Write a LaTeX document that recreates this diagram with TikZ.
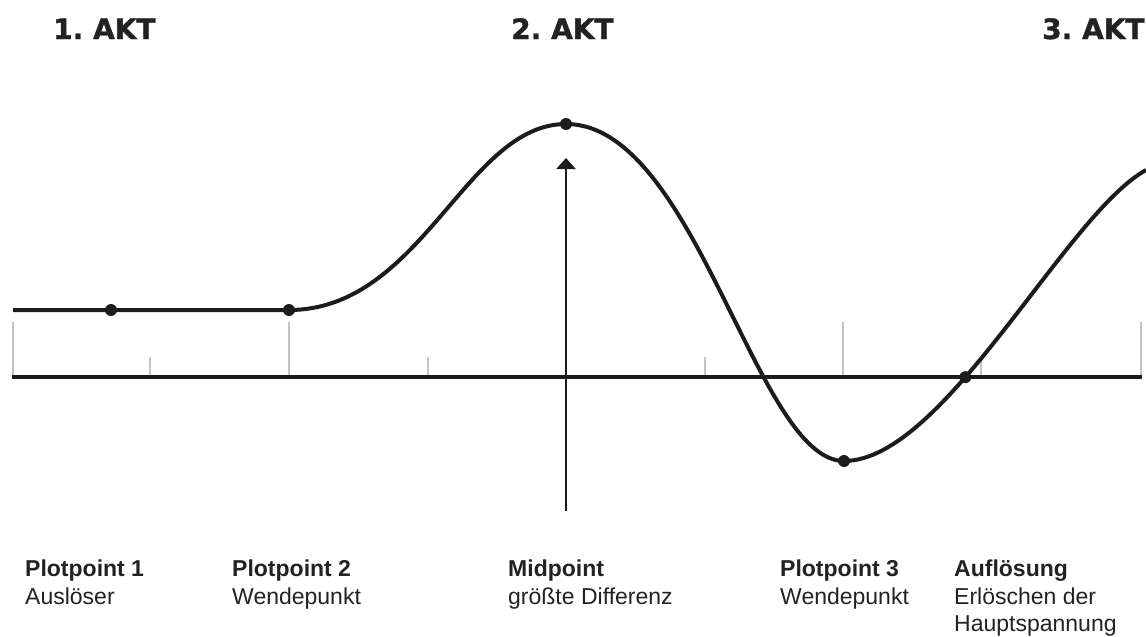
\documentclass[tikz,border=0pt]{standalone}
\usepackage{fontspec}
\setmainfont{Liberation Sans}
\newfontfamily\aktfont[BoldFeatures={FakeBold=1.2}]{DejaVu Sans}
\usetikzlibrary{arrows.meta}
\definecolor{linie}{HTML}{1C1C1C}
\definecolor{strich}{HTML}{C4C4C4}
\definecolor{schrift}{HTML}{222222}
\tikzset{
  akt/.style={anchor=base west, inner sep=0pt, font=\aktfont\bfseries\fontsize{28}{30}\selectfont, text=schrift},
  lbl/.style={anchor=base west, inner sep=0pt, align=left, font=\fontsize{23}{27.5}\selectfont, text=schrift},
  punkt/.style={circle, fill=linie, inner sep=0pt, minimum size=12pt},
  kurve/.style={line width=4pt, draw=linie},
  strichlein/.style={line width=2pt, draw=strich},
}
\begin{document}
\begin{tikzpicture}[x=1pt, y=-1pt]
    \useasboundingbox (0,0) rectangle (1146,637);

    % Akte
    \node[akt] (akt1) at (53,39) {1.\hspace{0.35em}AKT};
    \node[akt] (akt2) at (511,39) {2.\hspace{0.35em}AKT};
    \node[akt] (akt3) at (1042,39) {3.\hspace{0.35em}AKT};

    % Striche auf der Zeitachse
    \foreach \x in {13,289,843,1141}
        \draw[strichlein] (\x,322) -- (\x,377);
    \foreach \x in {150,428,705,981}
        \draw[strichlein] (\x,357) -- (\x,377);

    % Zeitachse
    \coordinate (links) at (12,377);
    \coordinate (rechts) at (1142,377);
    \draw[kurve] (links) -- (rechts);

    % Pfeil zum Midpoint
    \coordinate (fuss) at (566,511);
    \coordinate (spitze) at (566,158);
    \draw[-{Triangle[width=19pt,length=11pt]}, line width=2.5pt, draw=linie] (fuss) -- (spitze);

    % Spannungskurve
    \coordinate (start) at (13,310);
    \coordinate (pp1) at (111,310);
    \coordinate (pp2) at (289,310);
    \coordinate (mid) at (566,124);
    \coordinate (pp3) at (844,461);
    \coordinate (ende) at (1146,170);
    \draw[kurve] (start) -- (pp2)
        .. controls (422,310) and (466,124) .. (mid)
        .. controls (696,124) and (756,461) .. (pp3)
        .. controls (944,461) and (1065,215) .. coordinate[pos=0.385] (aufl) (ende);

    % Punkte
    \foreach \p in {pp1,pp2,mid,pp3,aufl}
        \node[punkt] (dot-\p) at (\p) {};

    % Beschriftungen (Anker auf der letzten Zeile)
    \node[lbl] (l1) at (25,604) {\textbf{Plotpoint 1}\\Auslöser};
    \node[lbl] (l2) at (232,604) {\textbf{Plotpoint 2}\\Wendepunkt};
    \node[lbl] (l3) at (508,604) {\textbf{Midpoint}\\größte Differenz};
    \node[lbl] (l4) at (780,604) {\textbf{Plotpoint 3}\\Wendepunkt};
    \node[lbl] (l5) at (954,631.5) {\textbf{Auflösung}\\Erlöschen der\\Hauptspannung};
\end{tikzpicture}
\end{document}
